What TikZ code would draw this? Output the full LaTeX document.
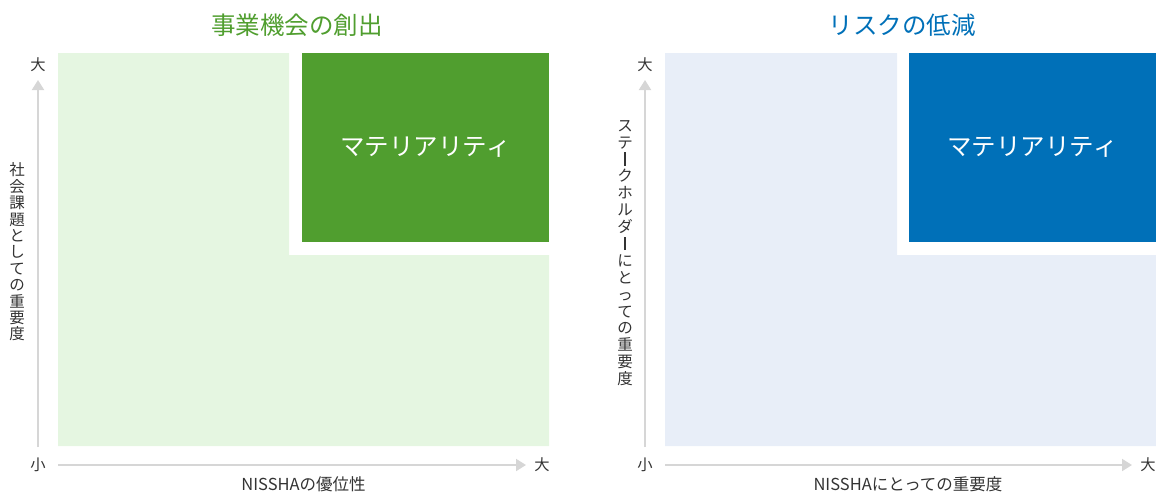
\documentclass[tikz,border=0pt]{standalone}
\usepackage{fontspec}
\setmainfont{Noto Sans CJK JP}
\usetikzlibrary{arrows.meta}
\definecolor{lgreen}{HTML}{E5F6E1}
\definecolor{dgreen}{HTML}{509E2F}
\definecolor{lblue}{HTML}{E8EEF8}
\definecolor{dblue}{HTML}{0070B8}
\definecolor{axisgray}{HTML}{D6D6D6}
\definecolor{txtgray}{HTML}{333333}
\newcommand{\vbar}{\rule[-0.05em]{1.3pt}{0.86em}}
\newcommand{\myvfontL}{\fontsize{15.5}{16.4}\selectfont\lineskiplimit=-20pt\relax}
\newcommand{\myvfontR}{\fontsize{15.5}{16.9}\selectfont\lineskiplimit=-20pt\relax}
\tikzset{
  axisline/.style={draw=axisgray, line width=2pt, -{Triangle[width=12pt,length=10pt]}},
  axislabel/.style={text=txtgray, font=\fontsize{15.3}{16}\selectfont, inner sep=0pt},
  xlabel/.style={text=txtgray, font=\fontsize{16.5}{18}\selectfont, inner sep=0pt},
  vlabel/.style={text=txtgray, align=center, inner sep=0pt},
  title/.style={font=\fontsize{24.5}{26}\selectfont, inner sep=0pt},
  matbox/.style={minimum width=247pt, minimum height=189pt, inner sep=0pt, text=white, font=\fontsize{24.5}{26}\selectfont},
}
\begin{document}
\begin{tikzpicture}[x=1pt,y=-1pt]
\useasboundingbox (0,0) rectangle (1156,491);
% ---------- left panel ----------
\fill[lgreen] (58,53) -- (289,53) -- (289,255) -- (549,255) -- (549,446) -- (58,446) -- cycle;
\node[matbox, fill=dgreen] (matL) at (425.5,147.5) {マテリアリティ};
\node[title, text=dgreen] (titleL) at (297,25) {事業機会の創出};
\node[axislabel] (bigYL) at (38,65) {大};
\node[axislabel] (smallL) at (38,465) {小};
\node[axislabel] (bigXL) at (542,465) {大};
\coordinate (yL0) at (38,447);
\coordinate (yL1) at (38,80);
\coordinate (xL0) at (58,465);
\coordinate (xL1) at (526,465);
\draw[axisline] (yL0) -- (yL1);
\draw[axisline] (xL0) -- (xL1);
\node[vlabel, font=\myvfontL] (vlabL) at (17,252) {社\\会\\課\\題\\と\\し\\て\\の\\重\\要\\度};
\node[xlabel] (hlabL) at (303.5,484) {NISSHAの優位性};
% ---------- right panel ----------
\fill[lblue] (665,53) -- (897,53) -- (897,255) -- (1156,255) -- (1156,446) -- (665,446) -- cycle;
\node[matbox, fill=dblue] (matR) at (1032.5,147.5) {マテリアリティ};
\node[title, text=dblue] (titleR) at (902,25) {リスクの低減};
\node[axislabel] (bigYR) at (645,65) {大};
\node[axislabel] (smallR) at (645,465) {小};
\node[axislabel] (bigXR) at (1148,465) {大};
\coordinate (yR0) at (645,447);
\coordinate (yR1) at (645,80);
\coordinate (xR0) at (665,465);
\coordinate (xR1) at (1132,465);
\draw[axisline] (yR0) -- (yR1);
\draw[axisline] (xR0) -- (xR1);
\node[vlabel, font=\myvfontR] (vlabR) at (625,253) {ス\\テ\\\vbar\\ク\\ホ\\ル\\ダ\\\vbar\\に\\と\\っ\\て\\の\\重\\要\\度};
\node[xlabel] (hlabR) at (908,484) {NISSHAにとっての重要度};
\end{tikzpicture}
\end{document}
